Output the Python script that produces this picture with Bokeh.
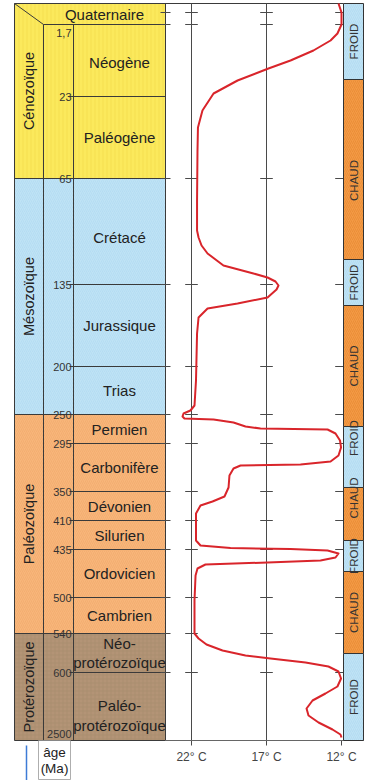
from math import pi
from bokeh.plotting import figure
from bokeh.models import Range1d, ColumnDataSource
from bokeh.core.properties import value
from bokeh.embed import file_html
from bokeh.resources import INLINE

# ---------------- data ----------------
eras = ["Cénozoïque", "Mésozoïque", "Paléozoïque", "Protérozoïque"]
era_top = [3, 178, 414, 633]          # schematic time-scale positions
era_bottom = [178, 414, 633, 740]

periods = ["Quaternaire", "Néogène", "Paléogène", "Crétacé", "Jurassique", "Trias",
           "Permien", "Carbonifère", "Dévonien", "Silurien", "Ordovicien", "Cambrien",
           "Néo-\nprotérozoïque", "Paléo-\nprotérozoïque"]
period_end_age = ["1,7", "23", "65", "135", "200", "250", "295", "350", "410",
                  "435", "500", "540", "600", "2500"]
period_top = [3, 24, 96, 178, 284, 366, 414, 443, 491, 520, 549, 597, 633, 672]
period_bottom = [24, 96, 178, 284, 366, 414, 443, 491, 520, 549, 597, 633, 672, 740]

graduations = [12, 24, 178, 284, 366, 414, 443, 491, 520, 549, 597, 633, 672]

climate = ["FROID", "CHAUD", "FROID", "CHAUD", "FROID", "CHAUD", "FROID", "CHAUD", "FROID"]
climate_top = [3, 79, 259, 305, 426, 487, 540, 571, 653]
climate_bottom = [79, 259, 305, 426, 487, 540, 571, 653, 740]

temp_ticks = [22, 17, 12]
temp_labels = ["22° C", "17° C", "12° C"]

curve_pos = [3, 12, 24, 33, 40, 50, 60, 68, 80, 93,
             110, 127, 150, 200, 230, 237, 245, 253, 265, 273,
             277, 281, 285, 289, 297, 303, 308, 317, 333, 380,
             405, 410, 413, 416, 418, 419, 422, 426, 428, 429,
             433, 440, 447, 455, 461, 464, 465, 468, 475, 487,
             496, 501, 505, 513, 540, 545, 547.5, 548.5, 550, 553,
             557, 560, 562, 564, 568, 575, 600, 633, 638, 644,
             650, 655, 658, 662, 666, 671, 678, 686, 693, 700,
             708, 715, 722, 729, 734, 737]
curve_temp = [12.2, 12.0, 12.0, 12.27, 12.73, 13.87, 15.4, 16.87, 18.93, 20.53,
              21.27, 21.57, 21.6, 21.63, 21.63, 21.53, 21.33, 20.93, 19.87, 17.87,
              16.93, 16.4, 16.2, 16.33, 16.93, 18.93, 20.93, 21.53, 21.63, 21.7,
              21.8, 22.07, 22.53, 22.6, 22.47, 20.53, 19.2, 18.4, 17.4, 12.93,
              12.4, 12.1, 12.03, 12.2, 12.73, 14.73, 18.73, 19.2, 19.47, 19.53,
              19.8, 20.6, 21.4, 21.7, 21.7, 21.4, 19.4, 15.4, 12.93, 12.2,
              12.4, 13.4, 16.93, 21.07, 21.6, 21.73, 21.8, 21.8, 21.53, 21.0,
              19.93, 18.4, 16.73, 14.4, 12.87, 12.2, 12.03, 12.27, 13.07, 13.93,
              14.33, 14.2, 13.53, 12.6, 12.07, 12.0]

# ---------------- style ----------------
FONT = value("Liberation Sans")
era_fill = ["#fbe95c", "#bfe3f5", "#f8b67a", "#b39476"]
era_hatch = ["|", "/", "/", "+"]
era_hatch_color = ["#ecd23a", "#a6d3ee", "#ec9f62", "#a1866a"]
clim_fill = {"FROID": "#bfe3f5", "CHAUD": "#f39a45"}
clim_hatch = {"FROID": "#a6d3ee", "CHAUD": "#e07f26"}
LINE = "#3a3a3a"
GRID = "#4a4a4a"

# layout (figure units)
X_LEFT, X_ERA, X_AGE, X_RIGHT = 14, 43, 73, 165
BAR_L, BAR_R = 343, 363
period_nudge = [0, 2, 0, 6, 0, 0, 0, 0, 0, 0, 0, 0, 0, 9]
age_nudge = [8, 0, 0, 0, 0, 0, 0, 0, 0, 0, 0, 0, 0, -7]
clim_nudge = [0, 11, 0, 0, -19, -16, 0, 0, 0]

p = figure(width=380, height=780, x_range=Range1d(0, 380), y_range=Range1d(780, 0),
           output_backend="svg", toolbar_location=None, x_axis_type=None,
           y_axis_type=None, min_border=0, outline_line_color=None,
           background_fill_color="white", border_fill_color="white")
p.extra_x_ranges = {"temp": Range1d(22 + 191 / 15, 22 - 189 / 15)}

# era backgrounds
p.quad(left=X_LEFT, right=X_RIGHT, top=era_top, bottom=era_bottom,
       fill_color=era_fill, line_color=None, hatch_pattern=era_hatch,
       hatch_color=era_hatch_color, hatch_scale=4, hatch_weight=1, hatch_alpha=0.4)

# table lines
p.segment(x0=[X_LEFT, X_RIGHT, X_ERA, X_AGE], x1=[X_LEFT, X_RIGHT, X_ERA, X_AGE],
          y0=[era_top[0], era_top[0], period_bottom[0], period_bottom[0]],
          y1=[era_bottom[-1]] * 4, line_color=LINE, line_width=1)
p.segment(x0=X_LEFT, y0=era_top[0], x1=X_ERA, y1=period_bottom[0], line_color=LINE, line_width=1)
p.segment(x0=X_ERA, y0=period_bottom[0], x1=X_RIGHT, y1=period_bottom[0], line_color=LINE, line_width=1)
p.segment(x0=X_LEFT, x1=BAR_L, y0=era_top[0], y1=era_top[0], line_color=LINE, line_width=1)
p.segment(x0=X_LEFT, x1=X_RIGHT, y0=era_bottom, y1=era_bottom, line_color=LINE, line_width=1)
inner = [b for b in period_bottom[1:] if b not in era_bottom]
p.segment(x0=X_AGE - 4, x1=X_RIGHT, y0=inner, y1=inner, line_color=LINE, line_width=1)

# labels
p.text(x=(X_LEFT + X_ERA) / 2, y=[(t + b) / 2 for t, b in zip(era_top, era_bottom)],
       text=eras, angle=pi / 2, text_align="center", text_baseline="middle",
       text_font=FONT, text_font_size="14.5px", text_color="#222222")
px = [(X_ERA + X_RIGHT) / 2] + [(X_AGE + X_RIGHT) / 2] * (len(periods) - 1)
py = [(t + b) / 2 + n for t, b, n in zip(period_top, period_bottom, period_nudge)]
p.text(x=px, y=py, text=periods, text_align="center", text_baseline="middle",
       text_font=FONT, text_font_size="15px", text_color="#222222", text_line_height=1.15)
p.text(x=X_AGE - 2, y=[b + n for b, n in zip(period_bottom, age_nudge)], text=period_end_age,
       text_align="right", text_baseline="middle", text_font=FONT,
       text_font_size="11px", text_color="#333333")

# temperature grid & ticks
p.segment(x0=temp_ticks[:2], x1=temp_ticks[:2], y0=era_top[0], y1=era_bottom[-1] + 5,
          x_range_name="temp", line_color=GRID, line_width=1)
p.segment(x0=temp_ticks[2], x1=temp_ticks[2], y0=era_bottom[-1], y1=era_bottom[-1] + 5,
          x_range_name="temp", line_color=GRID, line_width=1)
tx0, tx1, ty = [], [], []
for g in graduations:
    for t in temp_ticks:
        tx0.append(t + 0.42)
        tx1.append(t - 0.42 if t != 12 else t - 0.1)
        ty.append(g)
p.segment(x0=tx0, x1=tx1, y0=ty, y1=ty, x_range_name="temp", line_color=GRID, line_width=1)
p.segment(x0=X_RIGHT - 5, x1=X_RIGHT + 5, y0=graduations, y1=graduations,
          line_color=GRID, line_width=1)
p.segment(x0=X_RIGHT, x1=BAR_R, y0=era_bottom[-1], y1=era_bottom[-1],
          line_color="#666666", line_width=1)
p.text(x=temp_ticks, y=[756] * 3, text=temp_labels, x_range_name="temp",
       text_align="center", text_baseline="middle", text_font=FONT,
       text_font_size="12px", text_color="#444444")

# climate bar
csrc = ColumnDataSource(dict(top=climate_top, bottom=climate_bottom, lab=climate,
                             fill=[clim_fill[c] for c in climate],
                             hc=[clim_hatch[c] for c in climate],
                             ly=[(t + b) / 2 + n for t, b, n in zip(climate_top, climate_bottom, clim_nudge)]))
p.quad(left=BAR_L, right=BAR_R, top="top", bottom="bottom", source=csrc,
       fill_color="fill", line_color="#333333", line_width=1,
       hatch_pattern="/", hatch_color="hc", hatch_scale=4, hatch_weight=1, hatch_alpha=0.45)
p.text(x=(BAR_L + BAR_R) / 2, y="ly", text="lab", source=csrc, angle=pi / 2,
       text_align="center", text_baseline="middle", text_font=FONT,
       text_font_size="11.5px", text_color="#333333")

# temperature curve
p.line(x=curve_temp, y=curve_pos, x_range_name="temp", line_color="#d9252b",
       line_width=2, line_join="round")

# age (Ma) box
p.quad(left=38, right=70, top=era_bottom[-1], bottom=779, fill_color=None,
       line_color="#999999", line_width=0.8)
p.text(x=54, y=760, text=["âge\n(Ma)"], text_align="center", text_baseline="middle",
       text_font=FONT, text_font_size="13.5px", text_color="#222222", text_line_height=1.1)
p.segment(x0=26, x1=26, y0=745, y1=780, line_color="#3d7bd6", line_width=1.5)

open("out.html", "w").write(file_html(p, INLINE))
